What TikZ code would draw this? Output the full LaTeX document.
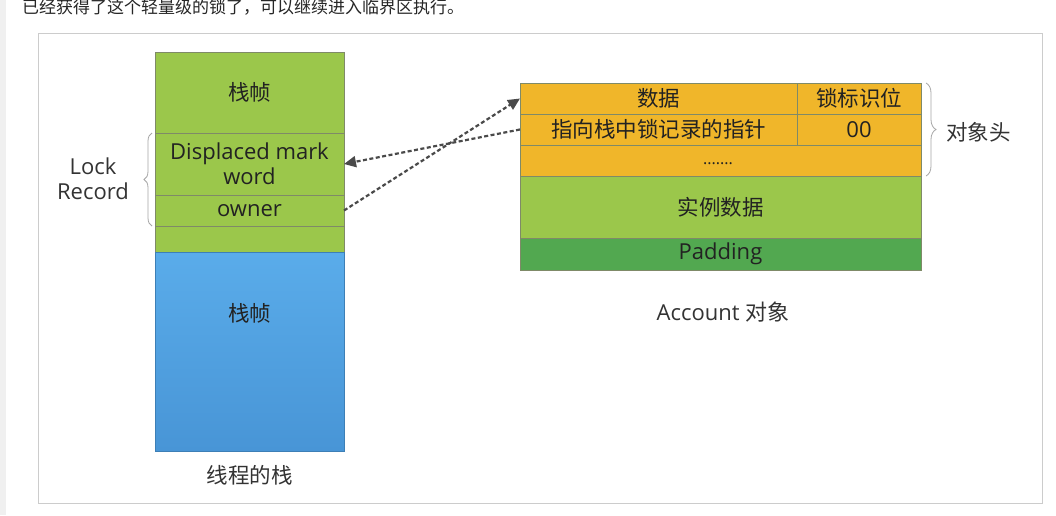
\documentclass[tikz,border=0pt]{standalone}
\usepackage{fontspec}
\setmainfont{Open Sans}
\newfontfamily\cjk{Noto Sans CJK SC}
\usetikzlibrary{arrows.meta,decorations.pathreplacing}
\definecolor{gold}{HTML}{F0B62A}
\definecolor{lgreen}{HTML}{9BC74B}
\definecolor{dgreen}{HTML}{52A850}
\definecolor{sbluet}{HTML}{5AACEA}
\definecolor{sblueb}{HTML}{4895D6}
\definecolor{edge}{HTML}{7F8A68}
\definecolor{txt}{HTML}{222222}
\definecolor{lbl}{HTML}{333333}
\definecolor{arr}{HTML}{4A4A4A}
\definecolor{framec}{HTML}{CCCCCC}
\definecolor{strip}{HTML}{F0F0F0}
\begin{document}
\begin{tikzpicture}[x=1pt,y=-1pt,
  cell/.style={draw=edge,line width=0.8pt,anchor=north west,inner sep=0pt,outer sep=0pt,text=txt,align=center},
  zh/.style={font=\cjk\fontsize{21.5}{26}\selectfont},
  en/.style={font=\fontsize{22}{25}\selectfont},
  lab/.style={text=lbl,inner sep=0pt},
  link/.style={draw=arr,line width=2.2pt,dash pattern=on 4pt off 2.5pt,-{Triangle[length=12pt,width=11pt,fill=arr]}},
  brc/.style={draw=gray!70,line width=0.8pt,decorate,decoration={brace,amplitude=#1}},
  brc/.default=8pt
]
\useasboundingbox (0,0) rectangle (1056,515);
\fill[white] (0,0) rectangle (1056,515);
\fill[strip] (0,0) rectangle (6,515);
\draw[framec,line width=1pt] (38,33) rectangle (1042,503);

\node[lab,anchor=west,font=\cjk\fontsize{17}{20}\selectfont,text=black!85] (intro) at (22,7) {已经获得了这个轻量级的锁了，可以继续进入临界区执行。};

% thread stack
\node[cell,fill=lgreen,minimum width=189pt,minimum height=81pt,zh] (f1) at (155,52) {栈帧};
\node[cell,fill=lgreen,minimum width=189pt,minimum height=62pt,en] (dm) at (155,133) {Displaced mark\\word};
\node[cell,fill=lgreen,minimum width=189pt,minimum height=31pt,en] (ow) at (155,195) {owner};
\node[cell,fill=lgreen,minimum width=189pt,minimum height=26pt] (gap) at (155,226) {};
\node[cell,draw=sblueb!85!black,top color=sbluet,bottom color=sblueb,minimum width=189pt,minimum height=199pt] (f2) at (155,252) {};
\node[lab,zh,text=txt] (f2t) at (249.5,313) {栈帧};
\node[lab,zh] (thr) at (249.5,475) {线程的栈};

\draw[brc=8pt] (152,226) -- (152,133);
\node[lab,en,align=center] (lr) at (93,179) {Lock\\Record};

% object
\node[cell,fill=gold,minimum width=277pt,minimum height=31pt,zh] (r1a) at (520,83) {数据};
\node[cell,fill=gold,minimum width=124pt,minimum height=31pt,zh] (r1b) at (797,83) {锁标识位};
\node[cell,fill=gold,minimum width=277pt,minimum height=31pt,zh] (r2a) at (520,114) {指向栈中锁记录的指针};
\node[cell,fill=gold,minimum width=124pt,minimum height=31pt,en] (r2b) at (797,114) {00};
\node[cell,fill=gold,minimum width=401pt,minimum height=31pt] (r3) at (520,145) {};
\node[lab,text=txt,font=\fontsize{16}{16}\selectfont] (dots) at (718,164) {.......};
\node[cell,fill=lgreen,minimum width=401pt,minimum height=62pt,zh] (r4) at (520,176) {实例数据};
\node[cell,fill=dgreen,minimum width=401pt,minimum height=32pt,en] (r5) at (520,238) {Padding};

\draw[brc=10pt] (926,83) -- (926,176);
\node[lab,zh,anchor=west] (oh) at (946,132) {对象头};
\node[lab,en] (acc) at (723,312) {Account {\cjk 对象}};

% links
\draw[link] (ow.east) -- (r1a.west);
\draw[link] (r2a.west) -- (dm.east);
\end{tikzpicture}
\end{document}
